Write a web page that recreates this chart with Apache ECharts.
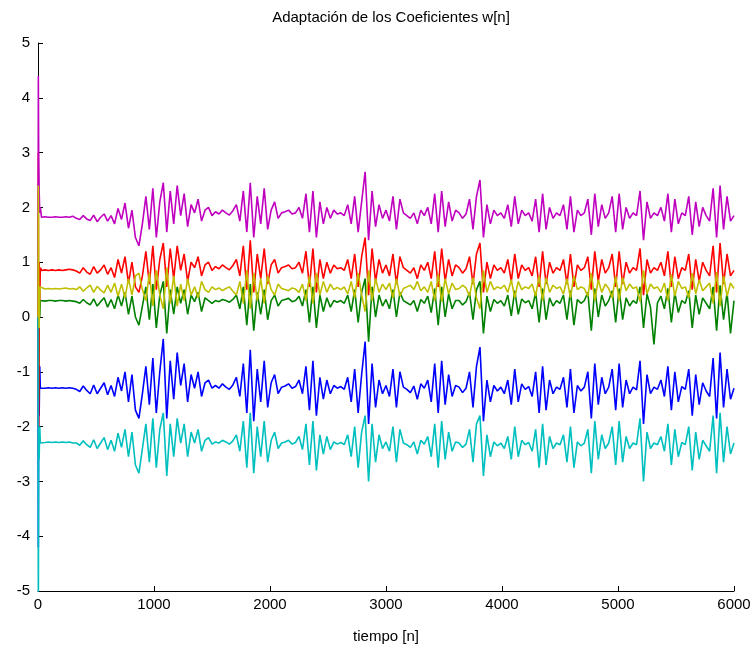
<!DOCTYPE html>
<html>
<head>
<meta charset="utf-8">
<script src="https://cdn.jsdelivr.net/npm/echarts@6/dist/echarts.min.js"></script>
<style>
html,body{margin:0;padding:0;background:#fff;}
#chart{width:756px;height:649px;}
</style>
</head>
<body>
<div id="chart"></div>
<script>
// Sample positions of the transient (start) and of the steady part
const startX = [0, 3, 6, 10, 15, 20];
const stepN = 30;   // main samples every 30 n, from 30 to 6000

// Transient values of each coefficient
const w1Start = [0, -4.2, -1.0, -1.8, -0.9, -1.3];   // blue
const w2Start = [0, 1.0, -1.5, 0.5, 0.0, 0.3];       // green
const w3Start = [0, 3.0, -2.5, 1.0, 0.3, 0.9];       // red
const w4Start = [0, -5.5, -2.0, -2.6, -2.0, -2.3];   // cyan
const w5Start = [0, 4.4, 2.9, 2.3, 1.9, 2.0];        // magenta
const w6Start = [0, 2.4, 0.6, -0.2, 0.4, 0.55];      // yellow

// Steady part (n = 30, 60, ..., 6000)
const w5 = [1.82,1.83,1.82,1.82,1.83,1.82,1.82,1.83,1.82,1.84,
1.80,1.78,1.85,1.79,1.76,1.86,1.74,1.82,1.88,1.75,
1.85,1.70,1.98,1.78,2.08,1.62,1.95,1.45,1.30,1.70,
2.20,1.60,2.35,1.45,2.10,2.45,1.55,2.30,1.70,2.40,
1.85,2.25,1.65,2.05,1.90,2.15,1.75,1.95,2.00,1.85,
1.92,1.88,1.95,1.90,1.86,1.94,2.05,1.75,2.30,1.55,
2.45,1.45,2.20,1.70,2.35,1.60,1.95,2.10,1.80,1.90,
1.92,1.95,1.88,1.90,2.00,1.80,2.25,1.55,2.30,1.45,
2.10,1.70,2.00,1.80,1.95,1.88,1.90,1.85,2.05,1.70,
2.20,1.55,2.10,2.65,1.40,2.30,1.65,2.05,1.80,1.95,
1.75,2.20,1.60,2.15,1.90,1.85,1.80,1.90,1.70,1.95,
1.85,2.00,1.70,2.25,1.55,2.30,1.65,2.10,1.75,1.95,
1.90,1.80,1.88,2.15,1.60,2.20,2.50,1.45,2.05,1.70,
1.95,1.85,1.90,1.80,2.05,1.65,2.20,1.70,1.95,1.85,
1.90,1.75,2.15,1.55,2.25,1.60,2.00,1.80,1.90,1.85,
2.05,1.60,2.20,1.55,1.95,1.85,1.90,2.15,1.50,2.25,
1.65,2.05,1.80,1.90,2.20,1.55,2.25,1.60,2.00,1.80,
1.90,1.85,2.30,1.40,2.10,1.80,1.90,1.85,2.00,1.75,
2.25,1.55,2.15,1.70,1.90,1.85,2.20,1.50,2.10,1.65,
2.00,1.85,1.75,2.35,1.45,2.40,1.60,2.20,1.75,1.85];

const w3 = [0.85,0.86,0.85,0.86,0.85,0.86,0.85,0.86,0.87,0.86,
0.84,0.80,0.90,0.82,0.78,0.92,0.80,0.86,0.95,0.78,
0.90,0.72,1.05,0.80,1.10,0.62,1.00,0.55,0.45,0.75,
1.20,0.60,1.30,0.50,1.05,1.35,0.55,1.25,0.70,1.30,
0.85,1.15,0.65,1.00,0.90,1.10,0.75,0.95,1.00,0.85,
0.92,0.88,0.95,0.90,0.86,0.94,1.05,0.75,1.30,0.50,
1.40,0.45,1.15,0.70,1.25,0.60,0.95,1.05,0.80,0.90,
0.92,0.95,0.88,0.90,1.00,0.80,1.20,0.55,1.25,0.45,
1.05,0.70,1.00,0.80,0.95,0.88,0.90,0.85,1.05,0.70,
1.15,0.55,1.10,1.45,0.40,1.25,0.65,1.05,0.80,0.95,
0.75,1.15,0.60,1.10,0.90,0.85,0.80,0.90,0.70,0.95,
0.85,1.00,0.70,1.20,0.55,1.25,0.65,1.05,0.75,0.95,
0.90,0.80,0.88,1.10,0.60,1.15,1.35,0.45,1.00,0.70,
0.95,0.85,0.90,0.80,1.05,0.65,1.15,0.70,0.95,0.85,
0.90,0.75,1.10,0.55,1.20,0.60,1.00,0.80,0.90,0.85,
1.05,0.60,1.15,0.55,0.95,0.85,0.90,1.10,0.50,1.20,
0.65,1.05,0.80,0.90,1.15,0.55,1.20,0.60,1.00,0.80,
0.90,0.85,1.25,0.40,1.05,0.80,0.90,0.85,1.00,0.75,
1.20,0.55,1.10,0.70,0.90,0.85,1.15,0.50,1.05,0.65,
1.00,0.85,0.75,1.30,0.45,1.35,0.60,1.15,0.75,0.85];

const w6 = [0.52,0.51,0.52,0.51,0.52,0.51,0.52,0.53,0.51,0.52,
0.50,0.55,0.47,0.53,0.58,0.45,0.56,0.49,0.44,0.58,
0.45,0.62,0.38,0.60,0.35,0.70,0.40,0.75,0.80,0.50,
0.30,0.80,0.20,0.85,0.40,0.15,0.90,0.25,0.75,0.20,
0.60,0.30,0.70,0.40,0.55,0.35,0.65,0.50,0.45,0.55,
0.50,0.53,0.48,0.52,0.55,0.47,0.40,0.65,0.25,0.85,
0.15,0.80,0.30,0.70,0.25,0.75,0.50,0.40,0.60,0.52,
0.50,0.48,0.53,0.51,0.45,0.60,0.30,0.75,0.25,0.80,
0.40,0.65,0.45,0.60,0.50,0.54,0.50,0.55,0.42,0.65,
0.35,0.80,0.40,0.10,0.85,0.30,0.70,0.45,0.60,0.50,
0.62,0.35,0.70,0.38,0.52,0.55,0.58,0.50,0.65,0.48,
0.55,0.45,0.65,0.30,0.78,0.28,0.70,0.42,0.62,0.50,
0.52,0.58,0.53,0.38,0.72,0.35,0.15,0.85,0.45,0.65,
0.50,0.55,0.52,0.58,0.45,0.68,0.35,0.65,0.50,0.55,
0.52,0.60,0.38,0.75,0.30,0.72,0.45,0.58,0.52,0.55,
0.42,0.70,0.35,0.75,0.50,0.55,0.52,0.38,0.80,0.30,
0.68,0.45,0.60,0.52,0.35,0.75,0.30,0.72,0.48,0.60,
0.52,0.55,0.28,0.85,0.42,0.60,0.52,0.55,0.45,0.62,
0.30,0.78,0.38,0.65,0.52,0.55,0.35,0.80,0.42,0.68,
0.48,0.55,0.62,0.25,0.82,0.20,0.75,0.38,0.62,0.52];

const w2 = [0.30,0.29,0.30,0.30,0.29,0.30,0.30,0.29,0.30,0.29,
0.28,0.25,0.32,0.26,0.22,0.33,0.20,0.28,0.35,0.18,
0.32,0.15,0.40,0.20,0.45,0.05,0.38,0.00,-0.15,0.20,
0.55,-0.05,0.60,-0.20,0.40,0.65,-0.30,0.50,0.05,0.55,
0.25,0.50,0.05,0.40,0.28,0.45,0.10,0.35,0.30,0.25,
0.30,0.28,0.32,0.30,0.27,0.32,0.40,0.15,0.55,-0.15,
0.60,-0.25,0.45,0.05,0.50,-0.05,0.30,0.40,0.20,0.30,
0.32,0.34,0.28,0.30,0.38,0.20,0.50,-0.10,0.55,-0.20,
0.40,0.10,0.35,0.18,0.30,0.27,0.30,0.25,0.40,0.10,
0.50,-0.10,0.45,0.70,-0.45,0.55,0.00,0.40,0.20,0.32,
0.15,0.50,0.00,0.45,0.30,0.26,0.22,0.30,0.10,0.32,
0.25,0.38,0.08,0.52,-0.15,0.55,0.00,0.42,0.15,0.30,
0.30,0.22,0.28,0.45,-0.05,0.50,0.65,-0.30,0.38,0.10,
0.32,0.25,0.30,0.20,0.40,0.02,0.48,0.05,0.33,0.26,
0.30,0.15,0.45,-0.10,0.52,-0.05,0.35,0.20,0.30,0.25,
0.40,-0.05,0.48,-0.15,0.32,0.25,0.30,0.45,-0.25,0.52,
0.00,0.40,0.20,0.30,0.48,-0.10,0.52,-0.05,0.35,0.20,
0.30,0.25,0.55,-0.20,0.42,0.18,-0.50,0.26,0.38,0.15,
0.52,-0.10,0.45,0.08,0.30,0.25,0.48,-0.20,0.40,0.05,
0.35,0.25,0.15,0.55,-0.25,0.58,-0.05,0.45,-0.30,0.30];

const w1 = [-1.29,-1.30,-1.29,-1.30,-1.29,-1.30,-1.29,-1.30,-1.29,-1.30,
-1.32,-1.36,-1.26,-1.34,-1.40,-1.24,-1.40,-1.30,-1.20,-1.42,
-1.25,-1.45,-1.10,-1.35,-1.00,-1.55,-1.05,-1.70,-1.85,-1.40,
-0.90,-1.60,-0.75,-1.75,-1.00,-0.40,-1.85,-0.80,-1.50,-0.65,
-1.25,-0.85,-1.55,-1.05,-1.30,-1.00,-1.45,-1.20,-1.15,-1.30,
-1.25,-1.30,-1.22,-1.28,-1.32,-1.24,-1.10,-1.45,-0.85,-1.75,
-0.60,-1.90,-0.95,-1.55,-0.80,-1.65,-1.20,-1.05,-1.40,-1.28,
-1.26,-1.22,-1.30,-1.27,-1.15,-1.40,-0.90,-1.70,-0.80,-1.80,
-1.10,-1.50,-1.15,-1.40,-1.25,-1.30,-1.27,-1.32,-1.10,-1.55,
-0.95,-1.75,-1.05,-0.45,-1.95,-0.85,-1.65,-1.15,-1.40,-1.25,
-1.45,-0.95,-1.65,-1.00,-1.28,-1.32,-1.38,-1.26,-1.50,-1.22,
-1.30,-1.15,-1.55,-0.85,-1.75,-0.80,-1.60,-1.05,-1.45,-1.25,
-1.28,-1.38,-1.30,-1.00,-1.65,-0.90,-0.55,-1.90,-1.15,-1.55,
-1.25,-1.35,-1.28,-1.40,-1.15,-1.60,-0.95,-1.55,-1.22,-1.32,
-1.27,-1.45,-1.00,-1.75,-0.90,-1.70,-1.15,-1.40,-1.28,-1.32,
-1.10,-1.65,-0.95,-1.75,-1.25,-1.35,-1.28,-1.00,-1.85,-0.85,
-1.60,-1.10,-1.40,-1.28,-0.95,-1.70,-0.85,-1.65,-1.15,-1.40,
-1.28,-1.33,-0.80,-1.95,-1.05,-1.40,-1.28,-1.32,-1.15,-1.45,
-0.90,-1.70,-1.00,-1.55,-1.27,-1.32,-0.95,-1.80,-1.05,-1.60,
-1.20,-1.35,-1.45,-0.75,-1.85,-0.65,-1.65,-0.95,-1.50,-1.30];

const w4 = [-2.28,-2.29,-2.28,-2.29,-2.28,-2.29,-2.28,-2.29,-2.28,-2.30,
-2.30,-2.34,-2.26,-2.33,-2.38,-2.24,-2.40,-2.30,-2.20,-2.42,
-2.25,-2.45,-2.12,-2.38,-2.05,-2.55,-2.10,-2.70,-2.85,-2.40,
-1.95,-2.65,-1.85,-2.75,-2.05,-1.75,-2.90,-1.95,-2.55,-1.85,
-2.30,-1.95,-2.55,-2.10,-2.30,-2.05,-2.45,-2.25,-2.20,-2.32,
-2.28,-2.30,-2.25,-2.28,-2.32,-2.26,-2.15,-2.45,-1.90,-2.75,
-1.75,-2.85,-2.00,-2.55,-1.90,-2.65,-2.25,-2.10,-2.40,-2.30,
-2.28,-2.25,-2.32,-2.29,-2.18,-2.42,-1.95,-2.70,-1.90,-2.80,
-2.15,-2.50,-2.18,-2.42,-2.28,-2.32,-2.29,-2.33,-2.15,-2.55,
-2.00,-2.75,-2.10,-1.80,-3.00,-1.95,-2.65,-2.15,-2.40,-2.28,
-2.45,-2.00,-2.65,-2.05,-2.30,-2.33,-2.38,-2.28,-2.50,-2.25,
-2.32,-2.18,-2.55,-1.95,-2.75,-1.90,-2.60,-2.10,-2.45,-2.28,
-2.30,-2.38,-2.32,-2.05,-2.65,-1.95,-1.80,-2.90,-2.15,-2.55,
-2.28,-2.35,-2.30,-2.40,-2.18,-2.60,-2.00,-2.55,-2.25,-2.33,
-2.29,-2.45,-2.05,-2.75,-1.95,-2.70,-2.18,-2.40,-2.30,-2.33,
-2.15,-2.65,-2.00,-2.75,-2.28,-2.35,-2.30,-2.05,-2.85,-1.90,
-2.60,-2.15,-2.40,-2.30,-2.00,-2.70,-1.90,-2.65,-2.18,-2.40,
-2.30,-2.33,-1.85,-3.00,-2.10,-2.40,-2.30,-2.33,-2.18,-2.45,
-1.95,-2.70,-2.05,-2.55,-2.29,-2.33,-2.00,-2.80,-2.10,-2.60,
-2.25,-2.35,-2.45,-1.80,-2.85,-1.75,-2.65,-2.00,-2.50,-2.30];

const xTicks = [0, 1000, 2000, 3000, 4000, 5000, 6000];
const yTicks = [-5, -4, -3, -2, -1, 0, 1, 2, 3, 4, 5];

const titleText = 'Adaptación de los Coeficientes w[n]';
const xName = 'tiempo [n]';

function build(start, main) {
  const d = [];
  for (let i = 0; i < start.length; i++) d.push([startX[i], start[i]]);
  for (let i = 0; i < main.length; i++) d.push([(i + 1) * stepN, main[i]]);
  return d;
}

const seriesDefs = [
  { name: 'w1', color: '#0000ff', start: w1Start, main: w1 },
  { name: 'w2', color: '#008000', start: w2Start, main: w2 },
  { name: 'w3', color: '#ff0000', start: w3Start, main: w3 },
  { name: 'w4', color: '#00bfbf', start: w4Start, main: w4 },
  { name: 'w5', color: '#bf00bf', start: w5Start, main: w5 },
  { name: 'w6', color: '#bfbf00', start: w6Start, main: w6 }
];

const chart = echarts.init(document.getElementById('chart'), null, { renderer: 'canvas' });
const font = 'Liberation Sans, Arial, sans-serif';

chart.setOption({
  animation: false,
  backgroundColor: '#ffffff',
  title: {
    text: titleText,
    left: 386,
    top: 5,
    textAlign: 'center',
    textStyle: { fontFamily: font, fontSize: 15, fontWeight: 'normal', color: '#000' }
  },
  grid: { left: 38, right: 22, top: 43, bottom: 57, containLabel: false },
  xAxis: {
    type: 'value',
    min: 0, max: 6000, interval: 1000,
    name: xName,
    nameLocation: 'middle',
    nameGap: 38,
    nameTextStyle: { fontFamily: font, fontSize: 15, color: '#000' },
    axisLine: { show: true, onZero: false, lineStyle: { color: '#000', width: 1 } },
    axisTick: { show: true, inside: true, length: 5, lineStyle: { color: '#000' } },
    axisLabel: { fontFamily: font, fontSize: 15, color: '#000', margin: 6,
      formatter: v => String(v) },
    splitLine: { show: false }
  },
  yAxis: {
    type: 'value',
    min: -5, max: 5, interval: 1,
    axisLine: { show: true, onZero: false, lineStyle: { color: '#000', width: 1 } },
    axisTick: { show: true, inside: true, length: 5, lineStyle: { color: '#000' } },
    axisLabel: { fontFamily: font, fontSize: 15, color: '#000', margin: 8,
      formatter: v => String(v) },
    splitLine: { show: false }
  },
  series: seriesDefs.map(s => ({
    name: s.name,
    type: 'line',
    data: build(s.start, s.main),
    showSymbol: false,
    symbol: 'none',
    clip: true,
    lineStyle: { color: s.color, width: 1.6 },
    itemStyle: { color: s.color }
  }))
});
</script>
</body>
</html>
